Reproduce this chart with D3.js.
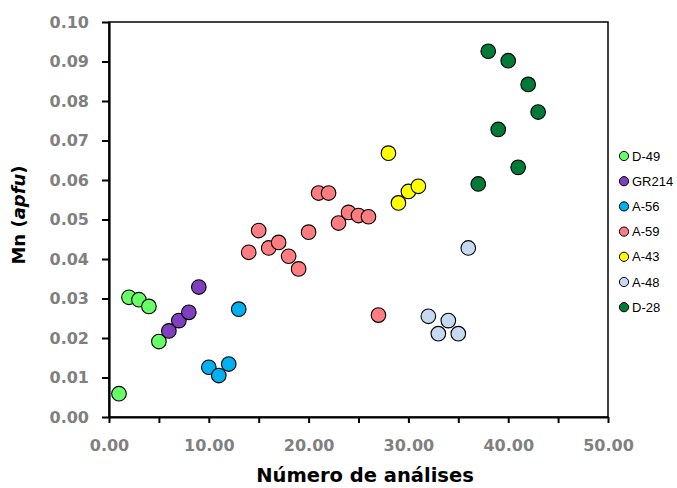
<!DOCTYPE html>
<html>
<head>
<meta charset="utf-8">
<script src="https://cdn.jsdelivr.net/npm/d3@7"></script>
<style>
  html, body { margin: 0; padding: 0; background: #fff; }
  svg { display: block; }
</style>
</head>
<body>
<svg id="chart" width="677" height="488"></svg>
<script>
// Sample names and their marker colours
const seriesNames = ["D-49", "GR214", "A-56", "A-59", "A-43", "A-48", "D-28"];
const seriesColors = ["#66FF66", "#7F3FBF", "#00B0F0", "#FF7C80", "#FFFF00", "#C5D9F1", "#007A37"];

// Analysis number (x) and Mn content in apfu (y) for each sample
const d49X = [1, 2, 3, 4, 5];
const d49Y = [0.0059, 0.0303, 0.0297, 0.0280, 0.0191];
const gr214X = [6, 7, 8, 9];
const gr214Y = [0.0218, 0.0244, 0.0265, 0.0329];
const a56X = [10, 11, 12, 13];
const a56Y = [0.0126, 0.0105, 0.0134, 0.0273];
const a59X = [14, 15, 16, 17, 18, 19, 20, 21, 22, 23, 24, 25, 26, 27];
const a59Y = [0.0417, 0.0472, 0.0428, 0.0442, 0.0407, 0.0375, 0.0468, 0.0567, 0.0567, 0.0491, 0.0518, 0.0510, 0.0507, 0.0258];
const a43X = [28, 29, 30, 31];
const a43Y = [0.0668, 0.0542, 0.0571, 0.0584];
const a48X = [32, 33, 34, 35, 36];
const a48Y = [0.0255, 0.0211, 0.0244, 0.0211, 0.0428];
const d28X = [37, 38, 39, 40, 41, 42, 43];
const d28Y = [0.0590, 0.0926, 0.0728, 0.0902, 0.0632, 0.0842, 0.0772];

// Axis tick values
const xTicks = [0, 5, 10, 15, 20, 25, 30, 35, 40, 45, 50];
const yTicks = [0, 0.01, 0.02, 0.03, 0.04, 0.05, 0.06, 0.07, 0.08, 0.09, 0.10];

const seriesX = [d49X, gr214X, a56X, a59X, a43X, a48X, d28X];
const seriesY = [d49Y, gr214Y, a56Y, a59Y, a43Y, a48Y, d28Y];
const series = seriesNames.map((name, i) => ({
  name,
  color: seriesColors[i],
  points: seriesX[i].map((x, j) => ({ x, y: seriesY[i][j] }))
}));

const svg = d3.select("#chart");
const plot = { left: 109, right: 608, top: 22, bottom: 417 };

const x = d3.scaleLinear().domain([0, 50]).range([plot.left, plot.right]);
const y = d3.scaleLinear().domain([0, 0.10]).range([plot.bottom, plot.top]);

// Plot frame
svg.append("rect")
  .attr("x", plot.left).attr("y", plot.top)
  .attr("width", plot.right - plot.left).attr("height", plot.bottom - plot.top)
  .attr("fill", "none").attr("stroke", "#000").attr("stroke-width", 1.5);

const tickFont = "'DejaVu Sans', sans-serif";

// Y axis
const yAxis = svg.append("g")
  .attr("transform", `translate(${plot.left},0)`)
  .call(d3.axisLeft(y).tickValues(yTicks).tickFormat(d3.format(".2f"))
    .tickSize(7).tickSizeOuter(0).tickPadding(13));
yAxis.select(".domain").attr("stroke-width", 2.2);
yAxis.selectAll(".tick line").attr("stroke-width", 2);
yAxis.selectAll(".tick text")
  .attr("fill", "#808080").attr("font-family", tickFont)
  .attr("font-weight", "bold").attr("font-size", 16);

// X axis
const xAxis = svg.append("g")
  .attr("transform", `translate(0,${plot.bottom})`)
  .call(d3.axisBottom(x).tickValues(xTicks)
    .tickFormat(d => d % 10 === 0 ? d3.format(".2f")(d) : "")
    .tickSize(6).tickSizeOuter(0).tickPadding(17));
xAxis.select(".domain").attr("stroke-width", 2.2);
xAxis.selectAll(".tick line").attr("stroke-width", 2);
xAxis.selectAll(".tick text")
  .attr("fill", "#808080").attr("font-family", tickFont)
  .attr("font-weight", "bold").attr("font-size", 16);

// Axis titles
svg.append("text")
  .attr("x", 365).attr("y", 482)
  .attr("text-anchor", "middle")
  .attr("font-family", tickFont).attr("font-weight", "bold").attr("font-size", 19.5)
  .attr("fill", "#000")
  .text("Número de análises");

const yTitle = svg.append("text")
  .attr("transform", "translate(25,215) rotate(-90)")
  .attr("text-anchor", "middle")
  .attr("font-family", tickFont).attr("font-weight", "bold").attr("font-size", 18)
  .attr("fill", "#000");
yTitle.append("tspan").text("Mn (");
yTitle.append("tspan").attr("font-style", "italic").text("apfu");
yTitle.append("tspan").text(")");

// Data points
const groups = svg.append("g").selectAll("g")
  .data(series).join("g")
  .attr("fill", d => d.color);
groups.selectAll("circle")
  .data(d => d.points).join("circle")
  .attr("cx", d => x(d.x)).attr("cy", d => y(d.y))
  .attr("r", 7.3)
  .attr("stroke", "#000").attr("stroke-width", 1.1);

// Legend
const legend = svg.append("g").selectAll("g")
  .data(series).join("g")
  .attr("transform", (d, i) => `translate(624,${156 + i * 25.2})`);
legend.append("circle")
  .attr("r", 4.6).attr("fill", d => d.color)
  .attr("stroke", "#000").attr("stroke-width", 1);
legend.append("text")
  .attr("x", 8).attr("dy", "0.36em")
  .attr("font-family", "'Liberation Sans', Arial, sans-serif").attr("font-size", 13)
  .attr("fill", "#000")
  .text(d => d.name);
</script>
</body>
</html>
